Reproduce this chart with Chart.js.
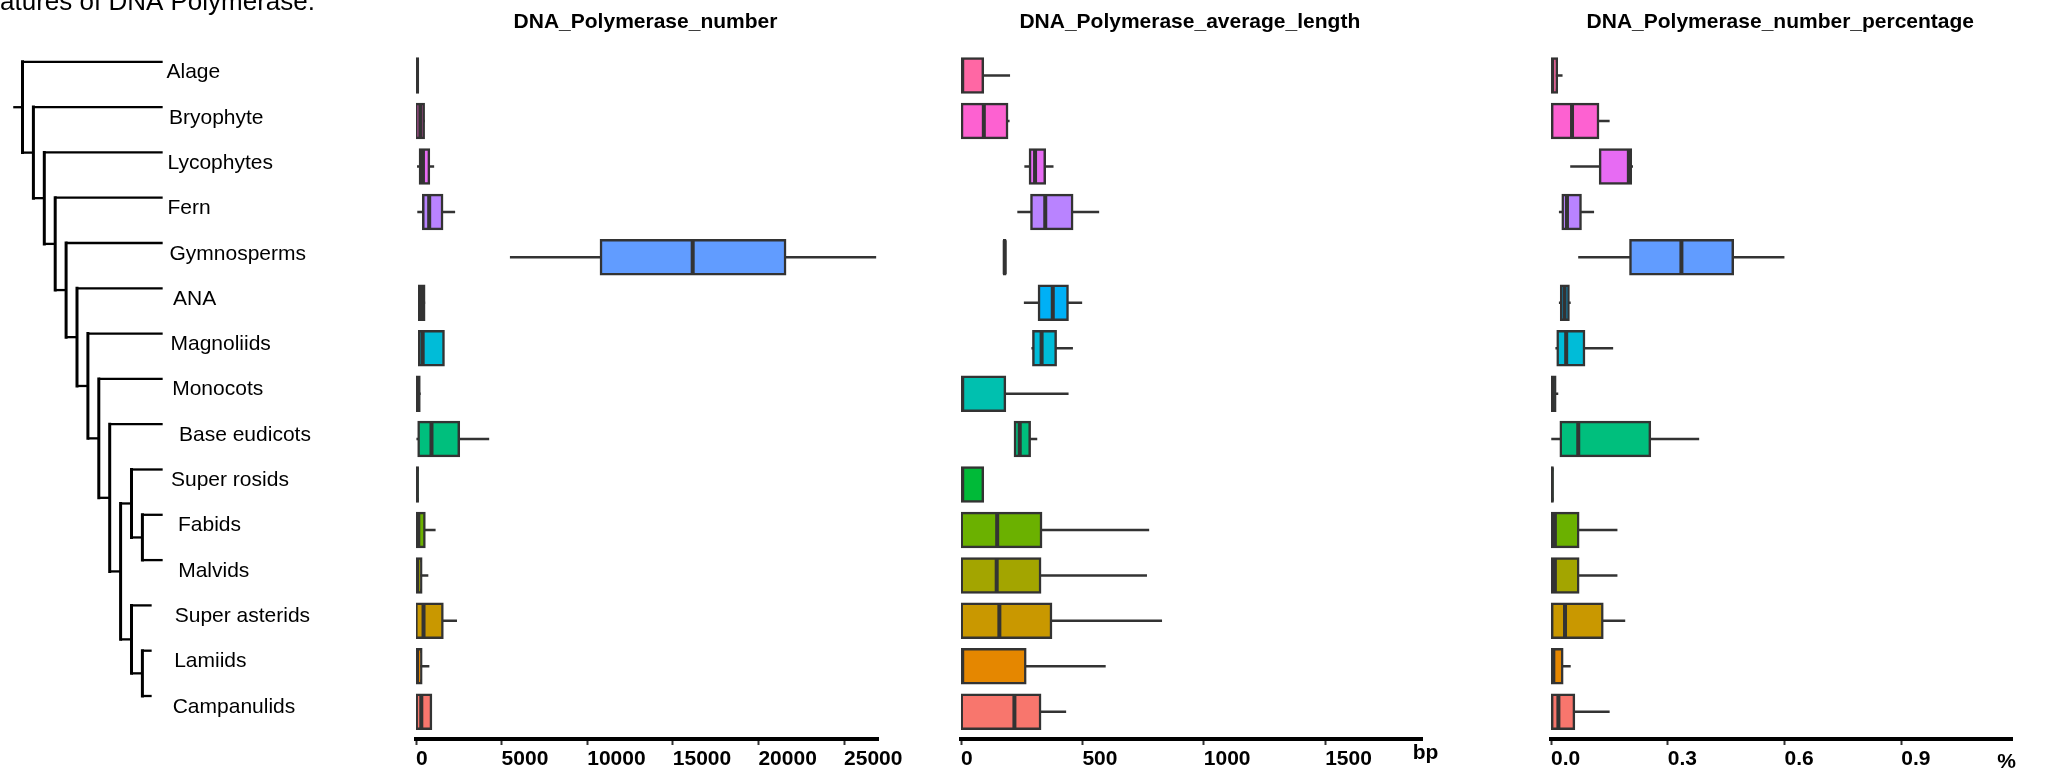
<!DOCTYPE html>
<html>
<head>
<meta charset="utf-8">
<script src="https://cdn.jsdelivr.net/npm/chart.js@4.4.1/dist/chart.umd.min.js"></script>
<style>
  html, body { margin: 0; padding: 0; background: #ffffff; }
  body { width: 2049px; height: 774px; position: relative; overflow: hidden; }
  canvas { position: absolute; top: 0; }
</style>
</head>
<body>
<canvas id="tree" width="400" height="774" style="left:0px"></canvas>
<canvas id="pNumber" width="545" height="774" style="left:395px"></canvas>
<canvas id="pLength" width="540" height="774" style="left:940px"></canvas>
<canvas id="pPercent" width="519" height="774" style="left:1530px"></canvas>
<script>
// ---- lineages (top to bottom) ----
const categories = ['Alage', 'Bryophyte', 'Lycophytes', 'Fern', 'Gymnosperms', 'ANA', 'Magnoliids',
  'Monocots', 'Base eudicots', 'Super rosids', 'Fabids', 'Malvids', 'Super asterids', 'Lamiids', 'Campanulids'];

// species tree (Newick, branch lengths in node steps)
const treeNewick = '(Alage:12.86,(Bryophyte:11.86,(Lycophytes:10.86,(Fern:9.86,(Gymnosperms:8.86,(ANA:7.86,' +
  '(Magnoliids:6.86,(Monocots:5.86,(Base eudicots:4.86,((Super rosids:2.86,(Fabids:1.86,Malvids:1.86):1):1,' +
  '(Super asterids:1.85,(Lamiids:0.85,Campanulids:0.85):1):1):1):1):1):1):1):1):1):1):1);';
const rootEdge = 0.85;

// ---- DNA_Polymerase_number ----
const numMin = [10, 0, 75, 90, 5500, 150, 190, 10, 40, 0, 20, 20, 20, 20, 20];
const numQ1  = [20, 20, 232, 424, 10800, 190, 190, 10, 150, 0, 35, 20, 20, 20, 40];
const numMed = [60, 250, 406, 770, 16160, 340, 390, 100, 905, 50, 133, 70, 440, 60, 310];
const numQ3  = [110, 450, 755, 1527, 21560, 480, 1610, 200, 2500, 100, 494, 308, 1545, 310, 877];
const numMax = [160, 500, 1045, 2270, 26860, 520, 1610, 260, 4260, 100, 1130, 705, 2380, 765, 877];
const numTicks = [0, 5000, 10000, 15000, 20000, 25000];

// ---- DNA_Polymerase_average_length (bp) ----
const lenMin = [0, 4, 262, 233, 178, 260, 291, 3, 222, 3, 3, 3, 3, 3, 3];
const lenQ1  = [3, 4, 284, 290, 178, 321, 298, 3, 222, 3, 3, 3, 3, 3, 3];
const lenMed = [5, 94, 305, 347, 180, 378, 332, 5, 242, 5, 149, 147, 158, 5, 220];
const lenQ3  = [90, 190, 345, 458, 182, 439, 390, 181, 283, 90, 330, 326, 371, 265, 326];
const lenMax = [201, 199, 380, 568, 182, 498, 460, 442, 313, 90, 774, 765, 827, 595, 432];
const lenTicks = [0, 500, 1000, 1500];

// ---- DNA_Polymerase_number_percentage (%) ----
const pctMin = [0.001, 0.003, 0.050, 0.021, 0.0705, 0.021, 0.012, 0.001, 0.000, 0.000, 0.003, 0.003, 0.003, 0.002, 0.003];
const pctQ1  = [0.001, 0.003, 0.126, 0.030, 0.204, 0.026, 0.017, 0.001, 0.025, 0.000, 0.003, 0.003, 0.003, 0.002, 0.003];
const pctMed = [0.003, 0.054, 0.200, 0.041, 0.335, 0.035, 0.039, 0.005, 0.070, 0.002, 0.010, 0.010, 0.036, 0.006, 0.019];
const pctQ3  = [0.015, 0.121, 0.205, 0.076, 0.467, 0.045, 0.085, 0.011, 0.254, 0.004, 0.070, 0.070, 0.132, 0.029, 0.059];
const pctMax = [0.029, 0.150, 0.210, 0.110, 0.599, 0.050, 0.159, 0.018, 0.380, 0.004, 0.170, 0.170, 0.190, 0.050, 0.150];
const pctTicks = [0.0, 0.3, 0.6, 0.9];

// fill colours, one per lineage
const palette = ['#FF67A4', '#FD61D1', '#E76BF3', '#B983FF', '#619CFF', '#00B0F6', '#00BCD8', '#00C0AF',
  '#00BF7D', '#00BA38', '#6BB100', '#A3A500', '#C99800', '#E58700', '#F8766D'];

const FONT = '"Liberation Sans", Arial, Helvetica, sans-serif';
const INK = '#333333';

// ---------- tree ----------
function parseNewick(str) {
  let pos = 0;
  function readNode() {
    const node = { children: [], name: '', length: 0 };
    if (str[pos] === '(') {
      pos++;
      node.children.push(readNode());
      while (str[pos] === ',') { pos++; node.children.push(readNode()); }
      pos++; // ')'
    }
    let name = '';
    while (pos < str.length && !',():;'.includes(str[pos])) name += str[pos++];
    node.name = name.trim();
    if (str[pos] === ':') {
      pos++;
      let num = '';
      while (pos < str.length && !',();'.includes(str[pos])) num += str[pos++];
      node.length = parseFloat(num);
    }
    return node;
  }
  return readNode();
}

const treeRoot = parseNewick(treeNewick);
const leaves = [];
(function layout(node, depth) {
  node.depth = depth;
  if (!node.children.length) {
    node.row = leaves.length;
    leaves.push(node);
    node.y = node.row;
  } else {
    node.children.forEach(c => layout(c, depth + c.length));
    node.y = node.children.reduce((s, c) => s + c.y, 0) / node.children.length;
  }
})(treeRoot, 0);

const treeSegments = [];
(function collect(node, parent) {
  if (parent) treeSegments.push({ x0: parent.depth, y0: node.y, x1: node.depth, y1: node.y, vertical: false });
  if (node.children.length) {
    const first = node.children[0], last = node.children[node.children.length - 1];
    treeSegments.push({ x0: node.depth, y0: first.y, x1: node.depth, y1: last.y, vertical: true });
    node.children.forEach(c => collect(c, node));
  }
})(treeRoot, null);
treeSegments.push({ x0: -rootEdge, y0: treeRoot.y, x1: 0, y1: treeRoot.y, vertical: false });

const labelDepth = 13.21;
const labelIndent = [0, 2.5, 1, 1, 3, 6.6, 4, 5.7, 12.5, 4.5, 11.5, 11.7, 8.2, 7.7, 6.2];

const treeLabels = {
  id: 'treeLabels',
  afterDatasetsDraw(chart) {
    const { ctx } = chart;
    const xs = chart.scales.x, ys = chart.scales.y;
    ctx.save();
    ctx.fillStyle = '#000000';
    ctx.textAlign = 'left';
    ctx.textBaseline = 'alphabetic';
    ctx.font = '21px ' + FONT;
    leaves.forEach((leaf, i) => {
      ctx.fillText(leaf.name, xs.getPixelForValue(labelDepth) + labelIndent[i], ys.getPixelForValue(leaf.row) + 16.6);
    });
    ctx.font = '26px ' + FONT;
    ctx.fillText('atures of DNA Polymerase.', 0, 10);
    ctx.restore();
  }
};

new Chart(document.getElementById('tree'), {
  type: 'scatter',
  data: {
    datasets: treeSegments.map(s => ({
      data: [{ x: s.x0, y: s.y0 }, { x: s.x1, y: s.y1 }],
      showLine: true,
      borderColor: '#000000',
      borderWidth: s.vertical ? 3 : 2.3,
      borderCapStyle: s.vertical ? 'square' : 'butt',
      pointRadius: 0,
      clip: false
    }))
  },
  options: {
    responsive: false,
    animation: false,
    events: [],
    layout: { padding: 0 },
    plugins: { legend: { display: false }, tooltip: { enabled: false } },
    scales: {
      x: { type: 'linear', display: false, min: -2.0642, max: 34.633 },
      y: { type: 'linear', display: false, reverse: true, min: -1.3642, max: 15.7219 }
    }
  },
  plugins: [treeLabels]
});

// ---------- box-plot panels ----------
function unitLabel(text, dx, dy, align) {
  return {
    id: 'unitLabel',
    afterDraw(chart) {
      if (!text) return;
      const { ctx, chartArea } = chart;
      ctx.save();
      ctx.fillStyle = '#000000';
      ctx.font = 'bold 21px ' + FONT;
      ctx.textAlign = align;
      ctx.textBaseline = 'alphabetic';
      ctx.fillText(text, chartArea.right + dx, chartArea.bottom + dy);
      ctx.restore();
    }
  };
}

function boxPanel(id, title, mins, q1s, meds, q3s, maxs, ticks, axisMax, fmt, pad, unit) {
  new Chart(document.getElementById(id), {
    type: 'bar',
    data: {
      datasets: [
        {
          type: 'scatter',
          data: meds.map((v, i) => ({ x: v, y: i })),
          pointStyle: 'line',
          pointRotation: 90,
          pointRadius: 17,
          pointBorderWidth: 4,
          pointBorderColor: INK,
          pointBackgroundColor: INK,
          order: 0
        },
        {
          type: 'bar',
          data: q1s.map((v, i) => ({ x: [v, q3s[i]], y: i })),
          backgroundColor: palette,
          borderColor: INK,
          borderWidth: 2.5,
          borderSkipped: false,
          inflateAmount: 1.25,
          barThickness: 34,
          grouped: false,
          order: 1
        },
        {
          type: 'bar',
          data: mins.map((v, i) => ({ x: [v, maxs[i]], y: i })),
          backgroundColor: INK,
          borderWidth: 0,
          inflateAmount: 0.25,
          barThickness: 2,
          grouped: false,
          order: 2
        }
      ]
    },
    options: {
      indexAxis: 'y',
      responsive: false,
      animation: false,
      events: [],
      layout: { padding: { left: pad[0], right: pad[1], top: 0, bottom: 0 } },
      plugins: {
        legend: { display: false },
        tooltip: { enabled: false },
        title: {
          display: true,
          text: title,
          color: '#000000',
          font: { family: FONT, size: 21, weight: 'bold' },
          padding: { top: 9.4, bottom: 13.7 }
        }
      },
      scales: {
        y: {
          type: 'linear', display: false, reverse: true, offset: false,
          min: -0.6, max: categories.length - 0.4
        },
        x: {
          type: 'linear',
          min: 0,
          max: axisMax,
          offset: false,
          afterBuildTicks: scale => { scale.ticks = ticks.map(v => ({ value: v })); },
          border: { display: true, color: '#000000', width: 4 },
          grid: { drawOnChartArea: false, drawTicks: true, tickLength: 6, tickColor: INK, tickWidth: 2 },
          ticks: {
            align: 'start',
            color: '#000000',
            font: { family: FONT, size: 21, weight: 'bold' },
            padding: 1.9,
            maxRotation: 0,
            autoSkip: false,
            callback: v => fmt(v)
          }
        }
      }
    },
    plugins: [unitLabel(unit.text, unit.dx, unit.dy, unit.align)]
  });
}

boxPanel('pNumber', 'DNA_Polymerase_number', numMin, numQ1, numMed, numQ3, numMax,
  numTicks, 27000, v => String(Math.round(v)), [17.7, 61.7], { text: '', dx: 0, dy: 0, align: 'left' });

boxPanel('pLength', 'DNA_Polymerase_average_length', lenMin, lenQ1, lenMed, lenQ3, lenMax,
  lenTicks, 1900, v => String(Math.round(v)), [17.3, 57.7], { text: 'bp', dx: -9.6, dy: 20.3, align: 'left' });

boxPanel('pPercent', 'DNA_Polymerase_number_percentage', pctMin, pctQ1, pctMed, pctQ3, pctMax,
  pctTicks, 1.185, v => v.toFixed(1), [18.3, 36.7], { text: '%', dx: 3.7, dy: 28.7, align: 'right' });
</script>
</body>
</html>
